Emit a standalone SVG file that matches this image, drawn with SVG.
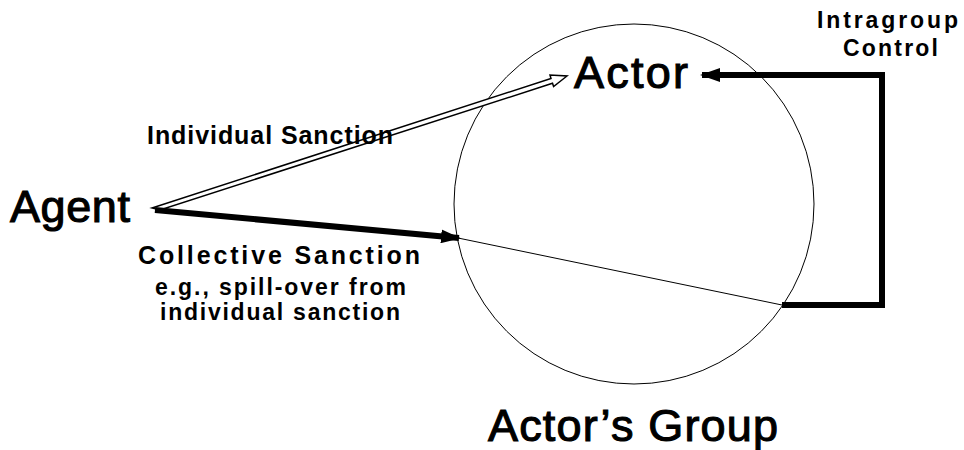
<svg xmlns="http://www.w3.org/2000/svg" width="964" height="450" viewBox="0 0 964 450">
<defs>
<style>
.big{font-family:"Liberation Sans",Arial,sans-serif;font-size:45px;fill:#000;stroke:#000;stroke-width:1.1}
.lab{font-family:"Liberation Sans",Arial,sans-serif;font-weight:bold;font-size:25px;fill:#000}
.sub{font-family:"Liberation Sans",Arial,sans-serif;font-weight:bold;font-size:23px;fill:#000}
.ctl{font-family:"Liberation Sans",Arial,sans-serif;font-weight:bold;font-size:23px;fill:#000}
.thick{fill:none;stroke:#000;stroke-width:6}
.thin{fill:none;stroke:#000;stroke-width:1}
</style>
<marker id="ah" viewBox="0 0 20 14" refX="18" refY="7" markerWidth="20" markerHeight="14" markerUnits="userSpaceOnUse" orient="auto">
<path d="M0,0 L20,7 L0,14 Z" fill="#000"/>
</marker>
</defs>
<rect width="964" height="450" fill="#fff"/>
<g id="group-circle">
<circle cx="634" cy="204" r="180" fill="none" stroke="#000" stroke-width="1"/>
<text class="big" x="488" y="441" textLength="290" lengthAdjust="spacing">Actor’s Group</text>
</g>
<g id="agent">
<text class="big" x="10" y="222" textLength="120" lengthAdjust="spacing">Agent</text>
</g>
<g id="actor">
<text class="big" x="574" y="88" textLength="114" lengthAdjust="spacing">Actor</text>
</g>
<g id="connectors">
<polygon points="152,208 551,78.5 550,75 567,76 553.6,86.6 552.5,83.3 160,210" fill="#fff" stroke="#000" stroke-width="1.5" stroke-linejoin="miter"/>
<line class="thick" x1="155" y1="210" x2="459" y2="238" marker-end="url(#ah)"/>
<line class="thin" x1="458" y1="238" x2="782" y2="305"/>
<path class="thick" d="M782,305 H882 V75 H702" marker-end="url(#ah)"/>
</g>
<g id="labels">
<text class="lab" x="147" y="144" textLength="246" lengthAdjust="spacing">Individual Sanction</text>
<text class="lab" x="138" y="264" font-size="26" textLength="282" lengthAdjust="spacing">Collective Sanction</text>
<text class="sub" x="155" y="295" textLength="251" lengthAdjust="spacing">e.g., spill-over from</text>
<text class="sub" x="160" y="320" textLength="240" lengthAdjust="spacing">individual sanction</text>
<text class="ctl" x="817" y="28" textLength="141" lengthAdjust="spacing">Intragroup</text>
<text class="ctl" x="843" y="56" textLength="95" lengthAdjust="spacing">Control</text>
</g>
</svg>
